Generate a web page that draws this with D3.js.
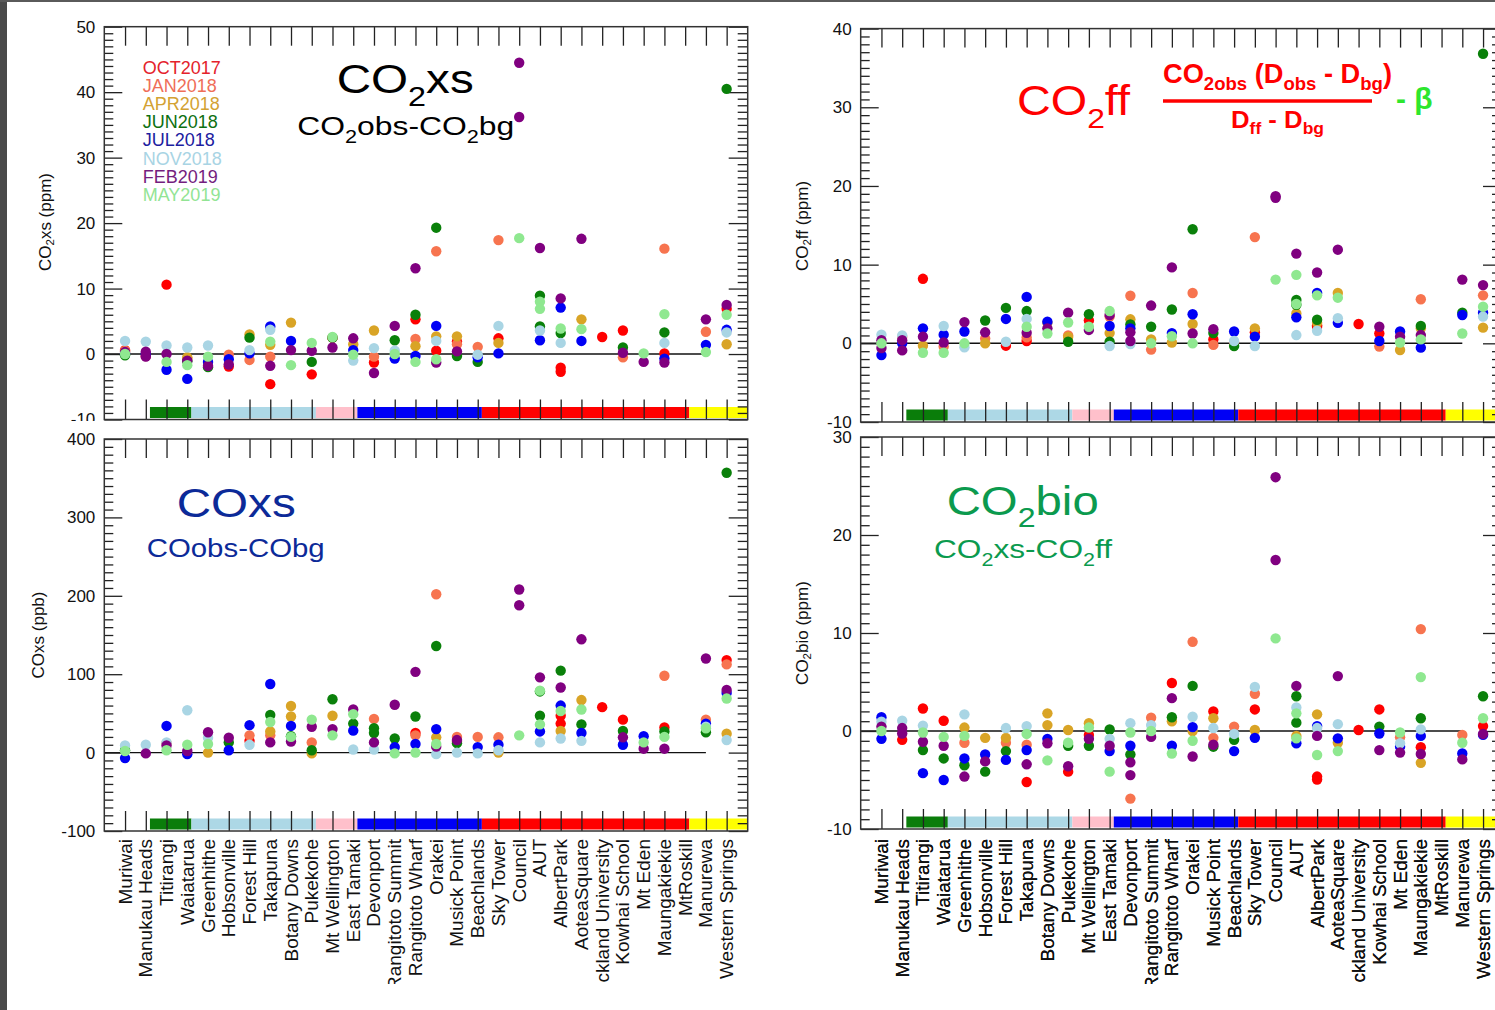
<!DOCTYPE html>
<html>
<head>
<meta charset="utf-8">
<script src="https://cdn.jsdelivr.net/npm/d3@7"></script>
<style>
  body { margin: 0; background: #fff; }
  svg { display: block; font-family: "Liberation Sans", Arial, Helvetica, sans-serif; }
</style>
</head>
<body>
<svg id="chart" width="1495" height="1010"></svg>
<script>
// ---- sites along the x axis ----
const sites = ["Muriwai", "Manukau Heads", "Titirangi", "Waiatarua", "Greenhithe", "Hobsonville",
  "Forest Hill", "Takapuna", "Botany Downs", "Pukekohe", "Mt Wellington", "East Tamaki", "Devonport",
  "Rangitoto Summit", "Rangitoto Wharf", "Orakei", "Musick Point", "Beachlands", "Sky Tower", "Council",
  "AUT", "AlbertPark", "AoteaSquare", "Auckland University", "Kowhai School", "Mt Eden", "Maungakiekie",
  "MtRoskill", "Manurewa", "Western Springs"];

// ---- sampling campaigns ----
const campaigns = ["OCT2017", "JAN2018", "APR2018", "JUN2018", "JUL2018", "NOV2018", "FEB2019", "MAY2019"];
const dotColors = ["#ff0000", "#f7744f", "#d9a426", "#0a800a", "#0000f5", "#a9d5e4", "#800080", "#8fe890"];
const legendColors = ["#e4222b", "#ef6e58", "#d3a232", "#0d7010", "#1c20a0", "#a8d4e4", "#741e7e", "#92e494"];

// ---- site groups (first site index of each group) ----
const groupStarts = [2, 4, 10, 12, 18, 28];
const groupColors = ["#0a7d0a", "#add8e6", "#ffc0cb", "#0000f5", "#ff0000", "#ffff00"];

// ---- y tick labels per panel ----
const co2xsTicks = [-10, 0, 10, 20, 30, 40, 50];
const coxsTicks = [-100, 0, 100, 200, 300, 400];
const co2ffTicks = [-10, 0, 10, 20, 30, 40];
const co2bioTicks = [-10, 0, 10, 20, 30];

// ---- CO2xs (ppm); an inner pair means two samples at that site ----
const co2xsOct17 = [0.6, -0.3, 10.6, null, null, -1.9, null, -4.6, null, -3.1, 2.5, null, -1.3, null, 5.3, 0.5, 1.9, null, 2.4, null, null, [-2.1, -2.7], null, 2.6, 3.6, null, 0.1, null, null, 6.9];
const co2xsJan18 = [0.5, null, null, -0.7, null, -0.1, -0.9, -0.4, null, null, null, null, -0.4, null, 2.3, 15.7, 1.5, 1.1, 17.4, null, null, null, null, null, -0.5, null, 16.1, null, 3.4, null];
const co2xsApr18 = [0.3, null, null, -0.5, null, null, 3.0, 1.4, 4.8, null, null, 1.5, 3.6, null, 1.2, 2.7, 2.7, null, 1.7, null, null, null, 5.3, null, null, null, null, null, null, 1.5];
const co2xsJun18 = [-0.2, null, null, -1.1, -2.0, null, 2.5, null, null, -1.2, 2.5, null, null, 2.1, 6.0, 19.3, -0.3, -1.2, null, null, [8.9, 4.2], 3.2, null, null, 1.0, null, 3.3, null, null, 40.5];
const co2xsJul18 = [0.1, 0.0, -2.4, -3.8, -1.2, -0.8, 0.1, 4.2, 2.0, null, null, 0.6, null, -0.7, -0.3, 4.3, null, -0.5, 0.1, null, 2.1, 7.1, 2.0, null, null, null, -0.7, null, 1.4, 3.7];
const co2xsNov18 = [2.0, 1.9, 1.3, 1.0, 1.3, null, 0.6, 3.7, null, null, null, -1.0, 0.9, 0.5, null, 2.0, null, -0.1, 4.3, null, 3.6, 1.7, null, null, null, null, 1.7, null, null, 3.3];
const co2xsFeb19 = [0.3, [0.35, -0.4], 0.0, -1.0, -1.8, -1.6, null, -1.8, 0.6, 0.5, 1.0, 2.4, -2.9, 4.3, 13.1, -1.3, 0.4, null, null, [44.5, 36.2], 16.2, 8.5, 17.6, null, 0.2, -1.2, -1.3, null, 5.3, 7.5];
const co2xsMay19 = [0.0, null, -1.2, -1.7, -0.4, null, null, 1.9, -1.7, 1.7, 2.6, -0.1, null, 0.0, -1.2, -0.8, null, null, null, 17.7, [8.0, 6.9], 3.9, 3.8, null, null, 0.1, 6.1, null, 0.3, 6.0];

// ---- COxs (ppb) ----
const coxsOct17 = [null, null, null, null, null, null, 15, null, null, null, null, null, null, null, 25, null, null, null, null, null, null, [47, 37], null, 58, 42, null, 32, null, null, 118];
const coxsJan18 = [null, null, 12, null, null, null, 22, 22, null, 13, null, null, 43, null, 22, 202, 20, 20, 19.5, null, null, null, null, null, null, null, 98, null, 42, 112.5];
const coxsApr18 = [null, null, null, null, 0, null, null, 27, [59.5, 46], -1, 47, null, null, null, null, 19.5, 14, null, 0, null, null, 27.5, 67, null, null, null, null, null, null, 24];
const coxsJun18 = [3, null, null, null, null, 13, null, 48, 21, 3, 68, 37, [31, 25], 18, 46, 136, 12, null, null, null, [78, 47], 104.5, 36, null, 27.5, null, 27, null, 26, 357];
const coxsJul18 = [-7, null, 34, -2, null, 3, 35, 87.5, 34, null, null, 28, null, 7, 11, 30, null, 7, 10, null, 27, 60, 25, null, 10, 21, null, null, 37, 76];
const coxsNov18 = [9, 10, 13, 54, 19, null, 10, null, null, null, null, 4, 4, null, null, -2, 0, -1, 3, null, 13, 18, 15, null, null, null, null, null, 33, 16];
const coxsFeb19 = [null, -1, 9, 2, 26, 19, null, 13, 14, 33, 30, 55, 13, 61, 103, 7.6, 16, null, null, [208, 188], 96, 83, 144.5, null, 19.5, 5, 5, null, 120, 80];
const coxsMay19 = [2, null, 3, 10, 11, null, null, 39, 20, 42, 22, 49, null, -1, 0, 11, null, null, null, 22, [79, 36], 53, 55, null, null, 13, 20, null, 31, 69];

// ---- CO2ff (ppm) ----
const co2ffOct17 = [null, null, 8.2, null, null, null, -0.3, 0.3, null, null, 2.9, null, null, null, null, null, 0.5, null, 1.4, null, null, [2.3, 2.1], null, 2.45, 1.25, null, null, null, null, null];
const co2ffJan18 = [null, 0.8, null, -0.4, null, 0.6, null, 0.75, null, 1.0, null, 3.4, 6.05, -0.8, null, 6.4, -0.2, 0.1, 13.5, null, null, null, null, null, -0.4, null, 5.6, null, null, 6.1];
const co2ffApr18 = [null, null, -0.3, null, null, 0.0, null, null, 2.6, 0.8, null, 1.3, 3.05, 0.5, 0.1, 2.45, null, null, 1.9, null, 3.8, 2.6, 6.4, null, null, -0.85, 1.9, null, null, 2.0];
const co2ffJun18 = [null, null, null, null, null, 2.9, 4.5, 4.1, null, 0.2, 3.7, 0.2, 2.4, 2.1, 4.3, 14.5, 1.3, -0.35, null, null, [5.5, 4.9], 3.0, null, null, null, null, 2.2, null, 3.9, 36.8];
const co2ffJul18 = [-1.5, 0.0, 1.9, 1.1, 1.5, null, 3.1, 5.9, 2.75, null, null, 2.2, 1.9, null, 1.3, 3.7, null, 1.5, 0.85, null, 3.3, 6.4, 2.6, null, 0.3, 1.5, -0.55, null, 3.6, 3.9];
const co2ffNov18 = [1.1, 1.0, null, 2.2, -0.5, null, 0.2, 3.1, null, null, null, -0.35, -0.1, null, null, null, null, 0.3, -0.35, null, 1.05, 1.6, 3.2, null, null, null, null, null, null, 3.4];
const co2ffFeb19 = [[0.4, -0.6], [0.4, -0.9], 0.85, 0.1, 2.7, 1.4, null, 1.35, 1.9, 3.9, 1.7, 3.6, [1.4, 0.3], 4.8, 9.65, 1.25, 1.8, null, null, [18.5, 18.7], 11.4, 9.0, 11.9, null, 2.1, 0.85, 1.05, null, 8.1, 7.4];
const co2ffMay19 = [0.0, null, -1.2, -1.2, 0.0, null, null, 2.1, 1.25, 2.65, 2.1, 4.1, null, 0.0, 0.9, 0.0, null, null, null, 8.1, [8.7, 5.0], 6.1, 5.8, null, null, 0.1, 0.5, null, 1.25, 4.65];

// ---- CO2bio (ppm) ----
const co2bioOct17 = [null, -0.9, 2.3, 1.05, null, null, null, -5.2, null, -4.15, -0.4, null, null, null, 4.9, null, 2.0, null, 2.2, null, null, [-4.65, -4.95], null, 0.1, 2.2, null, -1.65, null, null, 0.5];
const co2bioJan18 = [null, null, null, null, -1.2, null, -1.2, -1.4, null, null, null, null, -6.9, 1.35, null, 9.1, -0.7, 0.45, 3.8, null, null, null, null, null, null, -0.65, 10.4, null, -0.4, null];
const co2bioApr18 = [null, null, null, null, 0.35, -0.7, -0.7, null, [1.8, 0.6], 0.1, 0.8, null, null, null, 1.0, 0.0, 1.3, null, 0.1, null, -0.5, 1.7, -1.2, null, null, null, -3.25, null, null, null];
const co2bioJun18 = [null, null, -1.95, -2.8, -3.5, -4.15, -2.05, null, null, -1.5, -1.5, 0.15, -2.4, null, 1.4, 4.6, -1.6, -0.9, null, null, [3.55, 0.85], null, null, null, 0.45, null, 1.3, null, null, 3.55];
const co2bioJul18 = [[1.4, -0.8], null, -4.3, -5.0, -2.8, -2.4, -2.95, -1.95, -0.8, null, null, -2.05, -1.5, null, -1.5, 0.4, null, -2.05, -0.7, null, -1.25, 0.5, -0.75, null, -0.25, -1.6, -0.5, null, -2.3, -0.4];
const co2bioNov18 = [0.95, 1.05, 0.55, null, 1.7, null, 0.3, 0.5, null, null, null, -0.8, 0.8, 0.6, null, 1.45, 0.3, -0.3, 4.5, null, 2.4, 0.3, 0.7, null, null, -1.25, 0.17, null, null, null];
const co2bioFeb19 = [0.45, [0.3, -0.25], -1.1, -1.5, -4.65, -3.1, null, -3.4, -1.25, -3.6, -0.8, -1.5, [-3.2, -4.5], -0.6, 3.35, -2.6, -1.4, null, null, [25.9, 17.45], 4.6, -0.5, 5.6, null, -1.95, -2.2, -2.35, null, -2.9, -0.3];
const co2bioMay19 = [0.0, null, -0.15, -0.6, -0.5, null, null, -0.3, -3.0, -1.2, 0.35, -4.15, -0.15, 0.0, -2.3, -1.0, null, null, null, 9.45, [1.8, -0.75], -2.45, -2.05, null, null, -0.15, 5.5, null, -1.2, 1.3];

// ---------------------------------------------------------------
const svg = d3.select("#chart");
svg.append("rect").attr("width", 1495).attr("height", 1010).attr("fill", "#fff");

const panels = [
  { left: 104.3, right: 747.7, top: 26.7, bottom: 419.5, ticks: co2xsTicks, minorStep: 1, cover: null,
    series: [co2xsOct17, co2xsJan18, co2xsApr18, co2xsJun18, co2xsJul18, co2xsNov18, co2xsFeb19, co2xsMay19] },
  { left: 860.7, right: 1502, top: 28.6, bottom: 422, ticks: co2ffTicks, minorStep: 1, cover: null,
    series: [co2ffOct17, co2ffJan18, co2ffApr18, co2ffJun18, co2ffJul18, co2ffNov18, co2ffFeb19, co2ffMay19] },
  { left: 104.3, right: 747.7, top: 439, bottom: 831, ticks: coxsTicks, minorStep: 10, cover: [7, 421, 780, 589],
    series: [coxsOct17, coxsJan18, coxsApr18, coxsJun18, coxsJul18, coxsNov18, coxsFeb19, coxsMay19] },
  { left: 860.7, right: 1502, top: 437, bottom: 829, ticks: co2bioTicks, minorStep: 1, cover: null,
    series: [co2bioOct17, co2bioJan18, co2bioApr18, co2bioJun18, co2bioJul18, co2bioNov18, co2bioFeb19, co2bioMay19] }
];

const defs = svg.append("defs");
defs.append("clipPath").attr("id", "labelClip")
  .append("rect").attr("x", 0).attr("y", 834).attr("width", 1495).attr("height", 150);

function drawPanel(p, k) {
  const g = svg.append("g").attr("class", "panel-" + k);
  if (p.cover) {
    g.append("rect").attr("x", p.cover[0]).attr("y", p.cover[1])
      .attr("width", p.cover[2]).attr("height", p.cover[3]).attr("fill", "#fff");
  }
  // the site axis spans one slot before the first site to the slot after the last
  const x = d3.scaleLinear().domain([-1, 30]).range([p.left, p.left + (p.right - p.left) * (31 / 31)]);
  const yMin = d3.min(p.ticks), yMax = d3.max(p.ticks);
  const y = d3.scaleLinear().domain([yMin, yMax]).range([p.bottom, p.top]);
  const sx = d3.scaleLinear().domain([-1, 30]).range([p.left, p.left + 31 * 20.745]);

  // site-group colour bands along the bottom
  const bands = groupStarts.map((s, i) => ({
    x0: s - 0.8,
    x1: i < groupStarts.length - 1 ? groupStarts[i + 1] - 0.8 : 30,
    color: groupColors[i]
  }));
  g.append("g").selectAll("rect").data(bands).join("rect")
    .attr("x", d => sx(d.x0)).attr("width", d => Math.min(sx(d.x1), p.right) - sx(d.x0))
    .attr("y", p.bottom - 12.5).attr("height", 11)
    .attr("fill", d => d.color);

  // zero reference line
  g.append("line")
    .attr("x1", sx(-1)).attr("x2", sx(28))
    .attr("y1", y(0)).attr("y2", y(0))
    .attr("stroke", "#111").attr("stroke-width", 1.4);

  const majorStep = p.ticks[1] - p.ticks[0];
  const minors = d3.range(yMin, yMax + 1e-9, p.minorStep)
    .filter(v => Math.abs(v / majorStep - Math.round(v / majorStep)) > 1e-6);

  const styleAxis = sel => {
    sel.select(".domain").remove();
    sel.selectAll(".tick line").attr("stroke", "#222").attr("stroke-width", 1.3);
  };

  // y axis, left side (minor + major, ticks pointing inward)
  g.append("g").attr("transform", `translate(${p.left},0)`)
    .call(d3.axisLeft(y).tickValues(minors).tickSize(-9).tickFormat(""))
    .call(styleAxis);
  g.append("g").attr("transform", `translate(${p.left},0)`)
    .call(d3.axisLeft(y).tickValues(p.ticks).tickSize(-18).tickPadding(9).tickFormat(d => String(d)))
    .call(styleAxis)
    .call(s => s.selectAll("text").attr("font-size", 17).attr("fill", "#111")
      .attr("font-family", "'Liberation Sans', Arial, sans-serif"));

  // mirrored y axis on the right side
  g.append("g").attr("transform", `translate(${p.right},0)`)
    .call(d3.axisRight(y).tickValues(minors).tickSize(-10).tickFormat(""))
    .call(styleAxis);
  g.append("g").attr("transform", `translate(${p.right},0)`)
    .call(d3.axisRight(y).tickValues(p.ticks).tickSize(-19).tickFormat(""))
    .call(styleAxis);

  // site ticks on top and bottom
  const siteIdx = d3.range(sites.length);
  g.append("g").attr("transform", `translate(0,${p.top})`)
    .call(d3.axisTop(sx).tickValues(siteIdx).tickSize(-19).tickFormat(""))
    .call(styleAxis);
  g.append("g").attr("transform", `translate(0,${p.bottom})`)
    .call(d3.axisBottom(sx).tickValues(siteIdx).tickSize(-20).tickFormat(""))
    .call(styleAxis);

  // frame
  g.append("rect")
    .attr("x", p.left).attr("y", p.top)
    .attr("width", p.right - p.left).attr("height", p.bottom - p.top)
    .attr("fill", "none").attr("stroke", "#333").attr("stroke-width", 1.5);

  // observations
  const pts = [];
  p.series.forEach((arr, c) => {
    arr.forEach((v, i) => {
      if (v === null) return;
      (Array.isArray(v) ? v : [v]).forEach(val => pts.push({ i, v: val, c }));
    });
  });
  g.append("g").selectAll("circle").data(pts).join("circle")
    .attr("cx", d => sx(d.i)).attr("cy", d => y(d.v)).attr("r", 5.2)
    .attr("fill", d => dotColors[d.c]);

  // site names
  g.append("g").attr("clip-path", "url(#labelClip)")
    .selectAll("text").data(sites).join("text")
    .attr("transform", (d, i) => `translate(${sx(i)},839) rotate(-90)`)
    .attr("text-anchor", "end").attr("dominant-baseline", "central")
    .attr("font-size", 19).attr("fill", "#111")
    .text(d => d);
}

panels.forEach(drawPanel);

// ---- legend ----
svg.append("g").selectAll("text").data(campaigns).join("text")
  .attr("x", 142.7).attr("y", (d, i) => 74 + i * 18.1)
  .attr("font-size", 18).attr("fill", (d, i) => legendColors[i])
  .text(d => d);

// ---- helper for text with subscripts ----
function richText(x, y, size, color, parts, opts = {}) {
  const t = svg.append("text").attr("x", x).attr("y", y)
    .attr("font-size", size).attr("fill", color);
  if (opts.bold) t.attr("font-weight", "bold");
  if (opts.length) t.attr("textLength", opts.length).attr("lengthAdjust", "spacingAndGlyphs");
  if (opts.rotate) t.attr("transform", opts.rotate);
  if (opts.anchor) t.attr("text-anchor", opts.anchor);
  let shifted = 0;
  parts.forEach(pt => {
    const sub = Array.isArray(pt);
    const s = sub ? pt[0] : pt;
    const want = sub ? size * (opts.subDrop || 0.3) : 0;
    const ts = t.append("tspan").text(s).attr("dy", want - shifted);
    if (sub) ts.attr("font-size", size * (opts.subScale || 0.68));
    shifted = want;
  });
  return t;
}

// panel titles
richText(336.7, 93.3, 41, "#000", ["CO", ["2"], "xs"], { length: 137 });
richText(297.3, 135, 26, "#000", ["CO", ["2"], "obs-CO", ["2"], "bg"], { length: 217 });

richText(176.7, 516.7, 41, "#0c2a98", ["COxs"], { length: 119 });
richText(146.7, 556.7, 26, "#0c2a98", ["COobs-CObg"], { length: 178 });

richText(946.7, 515, 41, "#0b9a4e", ["CO", ["2"], "bio"], { length: 152 });
richText(934, 558.3, 26, "#0b9a4e", ["CO", ["2"], "xs-CO", ["2"], "ff"], { length: 178 });

richText(1017, 115, 42, "#ff0000", ["CO", ["2"], "ff"], { length: 113 });
richText(1163, 83, 27, "#ff0000", ["CO", ["2obs"], " (D", ["obs"], " - D", ["bg"], ")"], { bold: true, length: 229, subDrop: 0.25 });
svg.append("line").attr("x1", 1163).attr("x2", 1372).attr("y1", 101).attr("y2", 101)
  .attr("stroke", "#ff0000").attr("stroke-width", 3.5);
richText(1231, 128, 24, "#ff0000", ["D", ["ff"], " - D", ["bg"]], { bold: true, length: 93, subDrop: 0.25 });
richText(1396, 109, 30, "#2ee62e", ["- β"], { bold: true });

// y axis titles
richText(45, 222, 17, "#111", ["CO", ["2"], "xs (ppm)"], { rotate: "rotate(-90,45,222)", anchor: "middle", subDrop: 0.3 })
  .attr("dominant-baseline", "central");
richText(38, 635, 17, "#111", ["COxs (ppb)"], { rotate: "rotate(-90,38,635)", anchor: "middle" })
  .attr("dominant-baseline", "central");
richText(802, 226, 17, "#111", ["CO", ["2"], "ff (ppm)"], { rotate: "rotate(-90,802,226)", anchor: "middle" })
  .attr("dominant-baseline", "central");
richText(802, 633, 17, "#111", ["CO", ["2"], "bio (ppm)"], { rotate: "rotate(-90,802,633)", anchor: "middle" })
  .attr("dominant-baseline", "central");

// dark page edges
svg.append("rect").attr("x", 0).attr("y", 0).attr("width", 7).attr("height", 1010).attr("fill", "#4a4a4a");
svg.append("rect").attr("x", 0).attr("y", 0).attr("width", 1495).attr("height", 2).attr("fill", "#5a5a5a");
</script>
</body>
</html>
